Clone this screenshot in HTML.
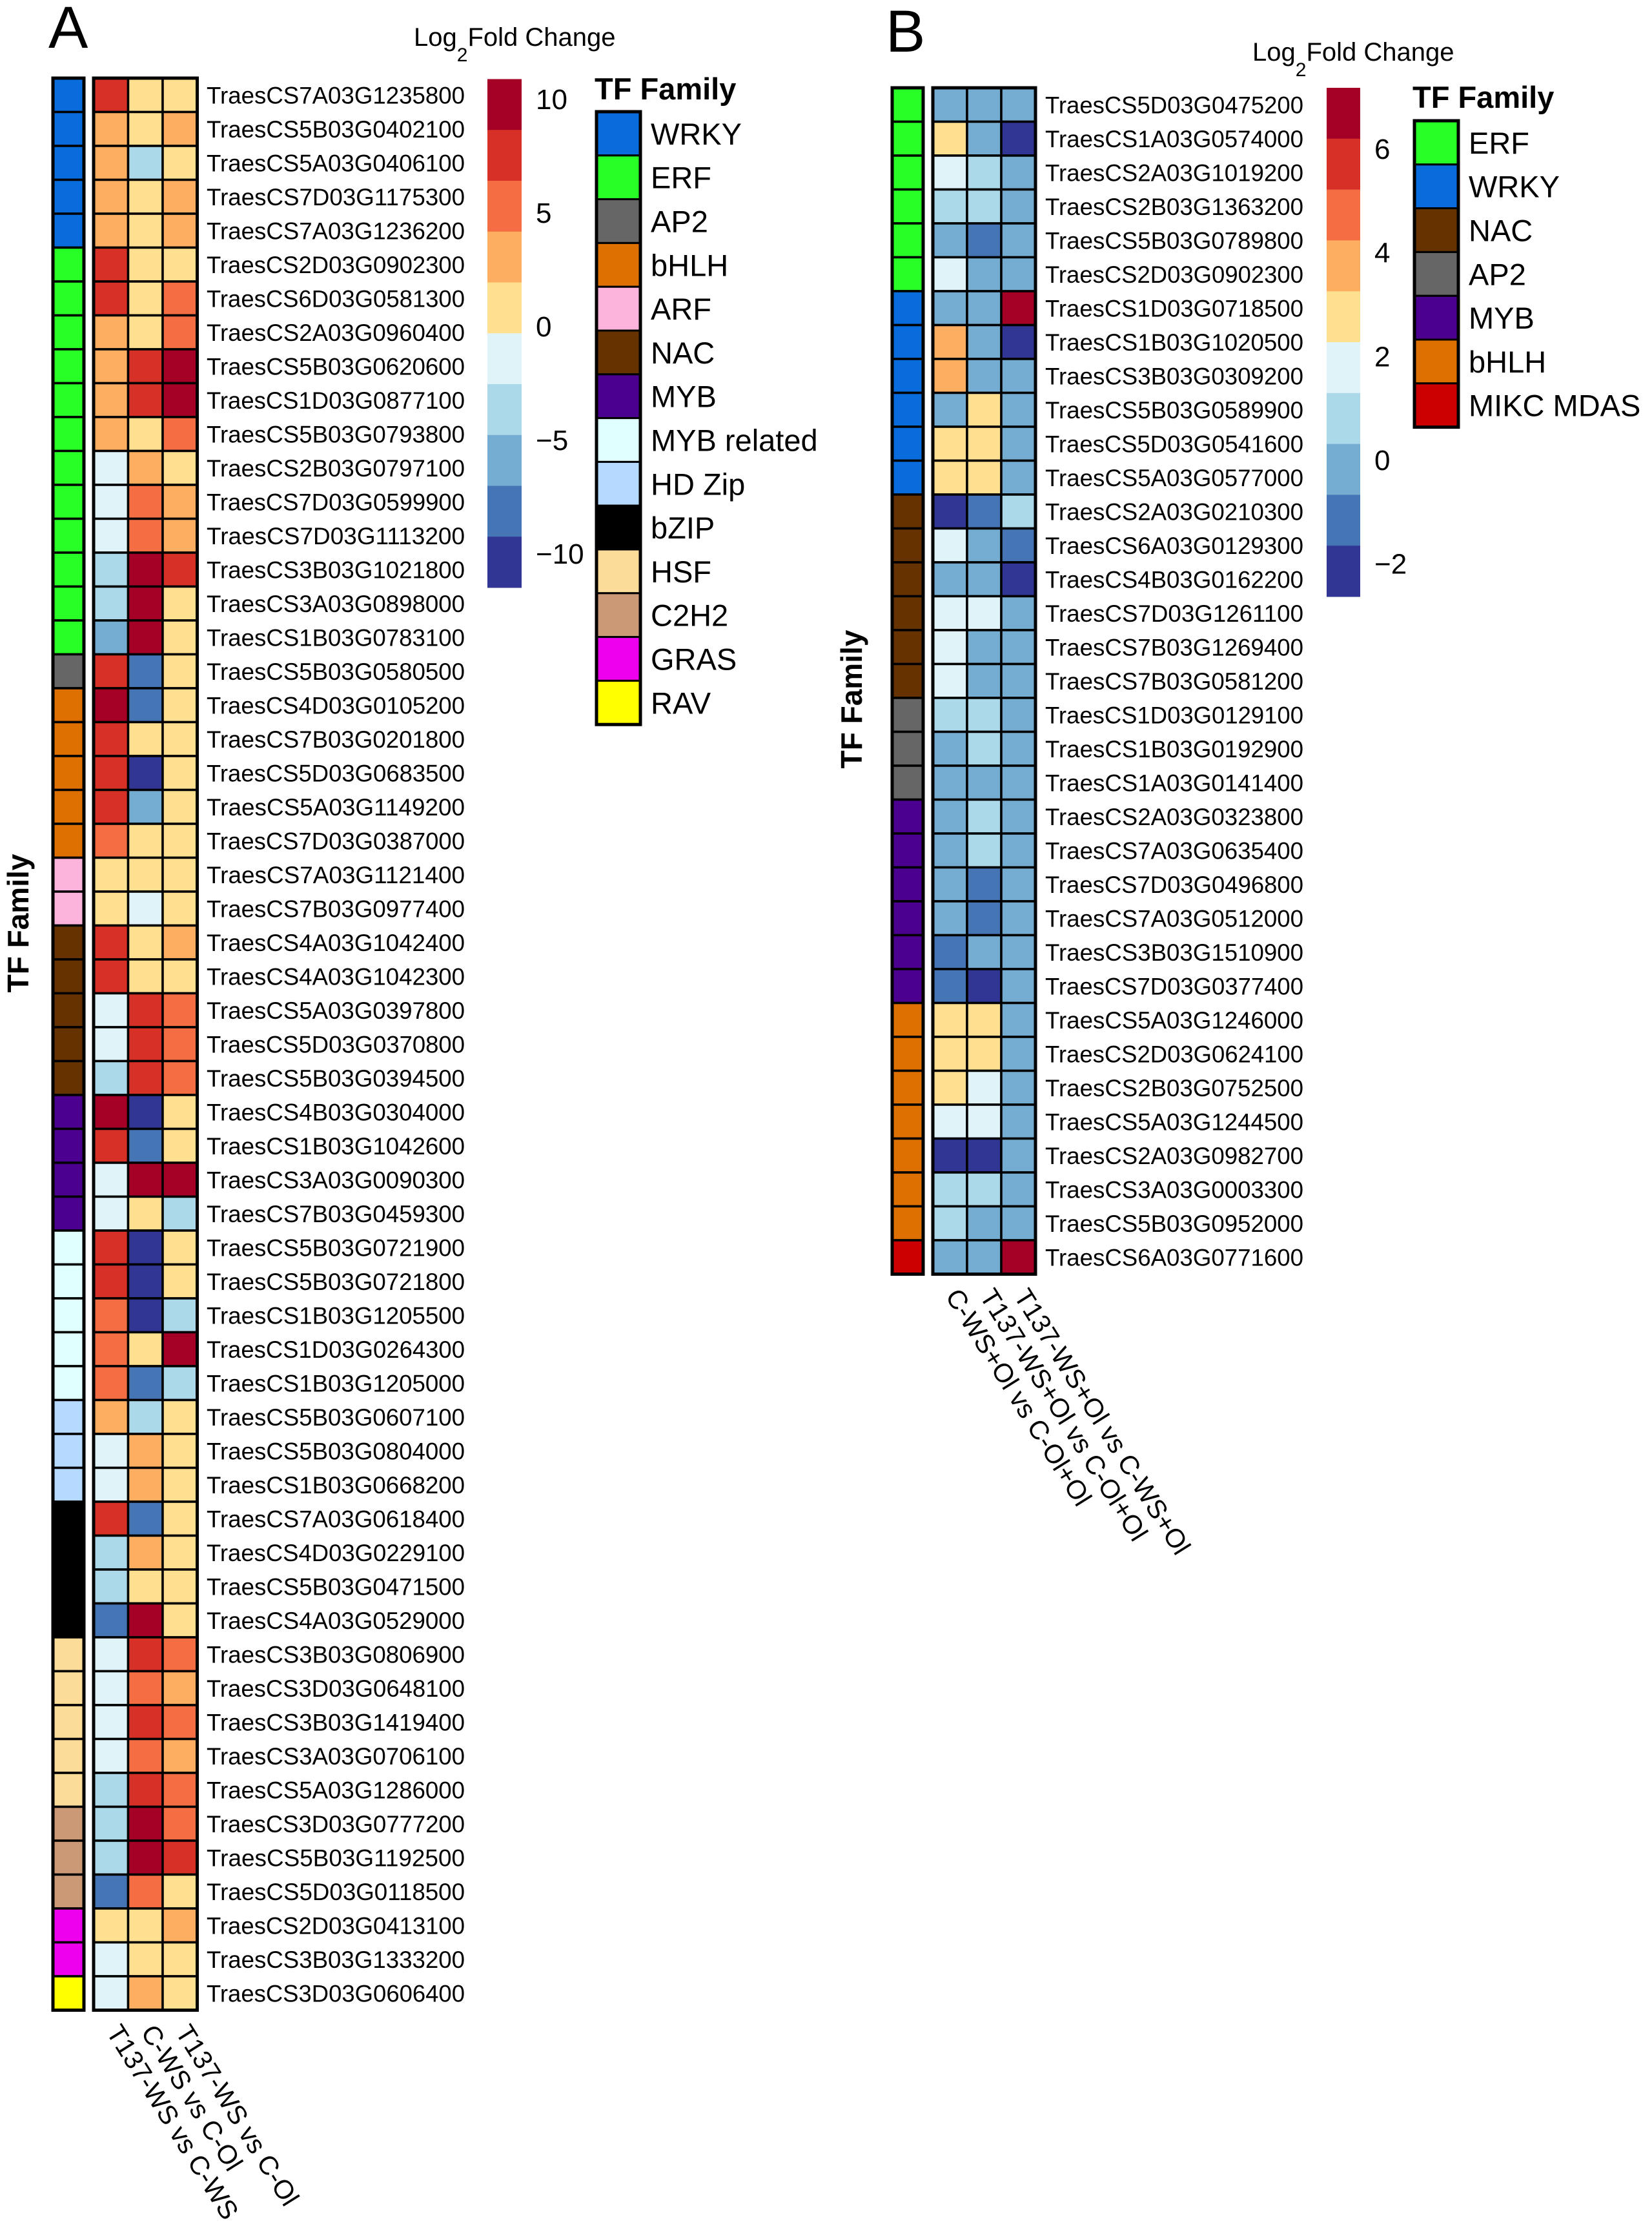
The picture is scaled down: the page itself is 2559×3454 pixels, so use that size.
<!DOCTYPE html>
<html><head><meta charset="utf-8">
<style>
html,body{margin:0;padding:0;background:#fff;}
svg{display:block;font-family:"Liberation Sans",Arial,sans-serif;}
</style></head>
<body>
<svg id="fig" width="2559" height="3454" viewBox="0 0 2559 3454" xmlns="http://www.w3.org/2000/svg">
<rect x="0" y="0" width="2559" height="3454" fill="#fff"/>
<text x="75" y="74" font-size="92">A</text>
<text x="1372" y="80" font-size="92">B</text>
<g id="gA"></g>
<g id="gB"></g>
</svg>
<script>
const NS="http://www.w3.org/2000/svg";
const palette=["#313695","#4575B4","#74ADD1","#ABD9E9","#E0F3F8","#FEE090","#FDAE61","#F46D43","#D73027","#A50026"];
const famColors={"WRKY":"#086CDC","ERF":"#27FF27","AP2":"#666666","bHLH":"#DD7000","ARF":"#FCB4DC","NAC":"#663300","MYB":"#4B0090","MYB related":"#E0FFFF","HD Zip":"#B5D9FF","bZIP":"#000000","HSF":"#FBDC99","C2H2":"#CC9977","GRAS":"#EE00EE","RAV":"#FFFF00","MIKC MDAS":"#CC0000"};

// ---- Panel A data ----
const genesA=["TraesCS7A03G1235800","TraesCS5B03G0402100","TraesCS5A03G0406100","TraesCS7D03G1175300","TraesCS7A03G1236200","TraesCS2D03G0902300","TraesCS6D03G0581300","TraesCS2A03G0960400","TraesCS5B03G0620600","TraesCS1D03G0877100","TraesCS5B03G0793800","TraesCS2B03G0797100","TraesCS7D03G0599900","TraesCS7D03G1113200","TraesCS3B03G1021800","TraesCS3A03G0898000","TraesCS1B03G0783100","TraesCS5B03G0580500","TraesCS4D03G0105200","TraesCS7B03G0201800","TraesCS5D03G0683500","TraesCS5A03G1149200","TraesCS7D03G0387000","TraesCS7A03G1121400","TraesCS7B03G0977400","TraesCS4A03G1042400","TraesCS4A03G1042300","TraesCS5A03G0397800","TraesCS5D03G0370800","TraesCS5B03G0394500","TraesCS4B03G0304000","TraesCS1B03G1042600","TraesCS3A03G0090300","TraesCS7B03G0459300","TraesCS5B03G0721900","TraesCS5B03G0721800","TraesCS1B03G1205500","TraesCS1D03G0264300","TraesCS1B03G1205000","TraesCS5B03G0607100","TraesCS5B03G0804000","TraesCS1B03G0668200","TraesCS7A03G0618400","TraesCS4D03G0229100","TraesCS5B03G0471500","TraesCS4A03G0529000","TraesCS3B03G0806900","TraesCS3D03G0648100","TraesCS3B03G1419400","TraesCS3A03G0706100","TraesCS5A03G1286000","TraesCS3D03G0777200","TraesCS5B03G1192500","TraesCS5D03G0118500","TraesCS2D03G0413100","TraesCS3B03G1333200","TraesCS3D03G0606400"];
const famOrderA=["WRKY","ERF","AP2","bHLH","ARF","NAC","MYB","MYB related","HD Zip","bZIP","HSF","C2H2","GRAS","RAV"];
const famCountsA=[5,12,1,5,2,5,4,5,3,4,5,3,2,1];
const conditionsA=["T137-WS vs C-WS","C-WS vs C-Ol","T137-WS vs C-Ol"];
const valsA1=[7.5,3,3,3,3,7.5,7.5,3,3,3, 3,-1.5,-1.5,-1.5,-3.7,-3.7,-6,7.5,9.7,7.5, 7.5,7.5,5.2,0.8,0.8,7.5,7.5,-1.5,-1.5,-3.7, 9.7,7.5,-1.5,-1.5,7.5,7.5,5.2,5.2,5.2,3, -1.5,-1.5,7.5,-3.7,-3.7,-8.2,-1.5,-1.5,-1.5,-1.5, -3.7,-3.7,-3.7,-8.2,0.8,-1.5,-1.5];
const valsA2=[0.8,0.8,-3.7,0.8,0.8,0.8,0.8,0.8,7.5,7.5, 0.8,3,5.2,5.2,9.7,9.7,9.7,-8.2,-8.2,0.8, -10.4,-6,0.8,0.8,-1.5,0.8,0.8,7.5,7.5,7.5, -10.4,-8.2,9.7,0.8,-10.4,-10.4,-10.4,0.8,-8.2,-3.7, 3,3,-8.2,3,0.8,9.7,7.5,5.2,7.5,5.2, 7.5,9.7,9.7,5.2,0.8,0.8,3];
const valsA3=[0.8,3,0.8,3,3,0.8,5.2,5.2,9.7,9.7, 5.2,0.8,3,3,7.5,0.8,0.8,0.8,0.8,0.8, 0.8,0.8,0.8,0.8,0.8,3,0.8,5.2,5.2,5.2, 0.8,0.8,9.7,-3.7,0.8,0.8,-3.7,9.7,-3.7,0.8, 0.8,0.8,0.8,0.8,0.8,0.8,5.2,3,5.2,3, 5.2,5.2,7.5,0.8,3,0.8,0.8];
const ticksA=[10,5,0,-5,-10];

// ---- Panel B data ----
const genesB=["TraesCS5D03G0475200","TraesCS1A03G0574000","TraesCS2A03G1019200","TraesCS2B03G1363200","TraesCS5B03G0789800","TraesCS2D03G0902300","TraesCS1D03G0718500","TraesCS1B03G1020500","TraesCS3B03G0309200","TraesCS5B03G0589900","TraesCS5D03G0541600","TraesCS5A03G0577000","TraesCS2A03G0210300","TraesCS6A03G0129300","TraesCS4B03G0162200","TraesCS7D03G1261100","TraesCS7B03G1269400","TraesCS7B03G0581200","TraesCS1D03G0129100","TraesCS1B03G0192900","TraesCS1A03G0141400","TraesCS2A03G0323800","TraesCS7A03G0635400","TraesCS7D03G0496800","TraesCS7A03G0512000","TraesCS3B03G1510900","TraesCS7D03G0377400","TraesCS5A03G1246000","TraesCS2D03G0624100","TraesCS2B03G0752500","TraesCS5A03G1244500","TraesCS2A03G0982700","TraesCS3A03G0003300","TraesCS5B03G0952000","TraesCS6A03G0771600"];
const famOrderB=["ERF","WRKY","NAC","AP2","MYB","bHLH","MIKC MDAS"];
const famCountsB=[6,6,6,3,6,7,1];
const conditionsB=["C-WS+Ol vs C-Ol+Ol","T137-WS+Ol vs C-Ol+Ol","T137-WS+Ol vs C-WS+Ol"];
const valsB1=[-0.2,2.8,1.8,0.8,-0.2,1.8,-0.2,3.7,3.7,-0.2, 2.8,2.8,-2.2,1.8,-0.2,1.8,1.8,1.8,0.8,-0.2, -0.2,-0.2,-0.2,-0.2,-0.2,-1.2,-1.2,2.8,2.8,2.8, 1.8,-2.2,0.8,0.8,-0.2];
const valsB2=[-0.2,-0.2,0.8,0.8,-1.2,-0.2,-0.2,-0.2,-0.2,2.8, 2.8,2.8,-1.2,-0.2,-0.2,1.8,-0.2,-0.2,0.8,0.8, -0.2,0.8,0.8,-1.2,-1.2,-0.2,-2.2,2.8,2.8,1.8, 1.8,-2.2,0.8,-0.2,-0.2];
const valsB3=[-0.2,-2.2,-0.2,-0.2,-0.2,-0.2,6.7,-2.2,-0.2,-0.2, -0.2,-0.2,0.8,-1.2,-2.2,-0.2,-0.2,-0.2,-0.2,-0.2, -0.2,-0.2,-0.2,-0.2,-0.2,-0.2,-0.2,-0.2,-0.2,-0.2, -0.2,-0.2,-0.2,-0.2,6.7];
const ticksB=[6,4,2,0,-2];

function mk(tag,attrs,parent){const e=document.createElementNS(NS,tag);for(const k in attrs)e.setAttribute(k,attrs[k]);parent.appendChild(e);return e;}
function colorFor(v,min,max){let i=Math.floor((v-min)/(max-min)*10);i=Math.max(0,Math.min(9,i));return palette[i];}

function drawPanel(g,cfg){
  const n=cfg.genes.length;
  const rowY=i=>cfg.top+i*cfg.rowH;
  const colX=j=>cfg.hx0+j*cfg.colW;
  const fams=[];cfg.famOrder.forEach((f,k)=>{for(let c=0;c<cfg.famCounts[k];c++)fams.push(f);});
  for(let i=0;i<n;i++){
    const r=mk('rect',{x:cfg.ax0,y:rowY(i),width:cfg.aw,height:cfg.rowH,fill:famColors[fams[i]],stroke:'#000','stroke-width':3.5},g);
    
    
  }
  mk('rect',{x:cfg.ax0,y:cfg.top,width:cfg.aw,height:n*cfg.rowH,fill:'none',stroke:'#000','stroke-width':5},g);
  cfg.cols.forEach((vals,j)=>{
    vals.forEach((v,i)=>{
      const r=mk('rect',{x:colX(j),y:rowY(i),width:cfg.colW,height:cfg.rowH,fill:colorFor(v,cfg.min,cfg.max),stroke:'#000','stroke-width':3.5},g);
      
      
    });
  });
  mk('rect',{x:cfg.hx0,y:cfg.top,width:cfg.colW*3,height:n*cfg.rowH,fill:'none',stroke:'#000','stroke-width':5},g);
  cfg.genes.forEach((name,i)=>{
    const t=mk('text',{x:cfg.lx,y:rowY(i)+cfg.rowH/2+13,'font-size':37,textLength:cfg.lw,lengthAdjust:'spacingAndGlyphs'},g);
    t.textContent=name;
    
    
  });
  const bottom=cfg.top+n*cfg.rowH;
  cfg.conds.forEach((c,j)=>{
    const x=colX(j)+cfg.colW/2-8, y=bottom+34;
    const t=mk('text',{x:x,y:y,'font-size':41,transform:`rotate(58 ${x} ${y})`},g);
    t.textContent=c;
    
    
  });
  const yt=mk('text',{x:cfg.ytx,y:cfg.yty,'font-size':46,'font-weight':'bold','text-anchor':'middle',transform:`rotate(-90 ${cfg.ytx} ${cfg.yty})`},g);
  yt.textContent='TF Family';
  
  
  const ct=mk('text',{x:cfg.ctx,y:cfg.cty,'font-size':40},g);
  
  
  const s1=mk('tspan',{},ct);s1.textContent='Log';
  const s2=mk('tspan',{dy:24,'font-size':30},ct);s2.textContent='2';
  const s3=mk('tspan',{dy:-24},ct);s3.textContent='Fold Change';
  const bh=(cfg.cbBot-cfg.cbTop)/10;
  for(let k=0;k<10;k++){
    const r=mk('rect',{x:cfg.cbx,y:cfg.cbTop+k*bh,width:cfg.cbw,height:bh+0.5,fill:palette[9-k]},g);
    
    
  }
  const vy=v=>cfg.cbTop+(cfg.max-v)/(cfg.max-cfg.min)*(cfg.cbBot-cfg.cbTop);
  cfg.ticks.forEach(v=>{
    const t=mk('text',{x:cfg.cbx+cfg.cbw+22,y:vy(v)+16,'font-size':44},g);
    t.textContent=(v<0?'\u2212'+(-v):String(v));
    
    
  });
  const lt=mk('text',{x:cfg.fx-3,y:cfg.fty,'font-size':47,'font-weight':'bold'},g);
  lt.textContent='TF Family';
  
  
  const ih=67.8;
  cfg.famOrder.forEach((f,k)=>{
    const r=mk('rect',{x:cfg.fx,y:cfg.fy+k*ih,width:68,height:ih,fill:famColors[f],stroke:'#000','stroke-width':3},g);
    
    
    const t=mk('text',{x:cfg.fx+84,y:cfg.fy+k*ih+ih/2+17,'font-size':47},g);
    t.textContent=f;
    
    
  });
  mk('rect',{x:cfg.fx,y:cfg.fy,width:68,height:cfg.famOrder.length*ih,fill:'none',stroke:'#000','stroke-width':5},g);
}

drawPanel(document.getElementById('gA'),{
  genes:genesA,famOrder:famOrderA,famCounts:famCountsA,conds:conditionsA,cols:[valsA1,valsA2,valsA3],
  min:-11.5,max:10.87,ticks:ticksA,
  top:121,rowH:52.5,ax0:82,aw:48,hx0:145,colW:53.5,lx:320,lw:400,
  ytx:44,yty:1430,ctx:641,cty:71,cbx:755,cbw:53,cbTop:122.5,cbBot:910,
  fx:924,fy:173,fty:154
});
drawPanel(document.getElementById('gB'),{
  genes:genesB,famOrder:famOrderB,famCounts:famCountsB,conds:conditionsB,cols:[valsB1,valsB2,valsB3],
  min:-2.64,max:7.17,ticks:ticksB,
  top:136,rowH:52.5,ax0:1382,aw:48,hx0:1445,colW:53,lx:1619,lw:400,
  ytx:1335,yty:1083,ctx:1940,cty:94,cbx:2055,cbw:52,cbTop:136,cbBot:924,
  fx:2191,fy:187,fty:167
});
</script>
</body></html>
